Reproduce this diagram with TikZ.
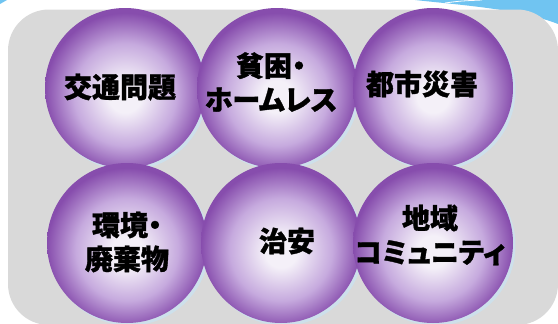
\documentclass[tikz,border=0pt]{standalone}
\usepackage{fontspec}
\newfontfamily\jpfont{Noto Sans CJK JP}[BoldFeatures={FakeBold=1.2}, RawFeature=+palt]
\definecolor{sphC}{RGB}{244,240,248}
\definecolor{sphM}{RGB}{198,170,222}
\definecolor{sphE}{RGB}{135,77,173}
\definecolor{panelgray}{RGB}{217,217,217}
\definecolor{wavecol}{RGB}{112,196,241}
\definecolor{rimcol}{RGB}{205,224,235}
\pgfdeclareradialshading{sph}{\pgfpoint{0bp}{-3bp}}{color(0bp)=(sphC); color(5bp)=(sphC); color(16bp)=(sphM); color(25bp)=(sphE); color(50bp)=(sphE)}
\tikzset{
  sphere/.style={circle, minimum size=160pt, inner sep=0pt, shade, shading=sph},
  rim/.style={circle, minimum size=160pt, inner sep=0pt, fill=rimcol, xshift=2.5pt, yshift=-2.5pt},
  label/.style={font=\jpfont\bfseries\fontsize{28}{34}\selectfont, align=center, text=black, inner sep=0pt},
  wave/.style={fill=wavecol}
}
\begin{document}
\begin{tikzpicture}[x=1pt,y=-1pt]
\useasboundingbox (0,0) rectangle (558,324);
\clip (0,0) rectangle (558,324);
\fill[wave] (415,0) .. controls (460,5) and (520,9) .. (558,24) -- (558,0) -- cycle;
\draw[white, line width=0.8pt] (445,3) .. controls (460,1) .. (482,0);
\fill[wave] (0,0) -- (7,0) .. controls (4,2) .. (0,4) -- cycle;
\fill[panelgray, rounded corners=41pt] (8,9.5) rectangle (558,325);
% centres
\coordinate (p1) at (125,88);
\coordinate (p2) at (277,88);
\coordinate (p3) at (433,88);
\coordinate (p4) at (127,243);
\coordinate (p5) at (281,243);
\coordinate (p6) at (433,243);
% rims
\foreach \i in {1,...,6} { \node[rim] (r\i) at (p\i) {}; }
% spheres
\node[sphere] (s1) at (p1) {};
\node[sphere] (s2) at (p2) {};
\node[sphere] (s3) at (p3) {};
\node[sphere] (s4) at (p4) {};
\node[sphere] (s5) at (p5) {};
\node[sphere] (s6) at (p6) {};
% labels
\node[label] (t1) at (120,87) {交通問題};
\node[label] (t2) at (271,82) {貧困・\\ホームレス};
\node[label] (t3) at (422,84) {都市災害};
\node[label] (t4) at (127,242) {環境・\\廃棄物};
\node[label] (t5) at (287,241) {治安};
\node[label] (t6) at (430,235) {地域\\コミュニティ};
\end{tikzpicture}
\end{document}
